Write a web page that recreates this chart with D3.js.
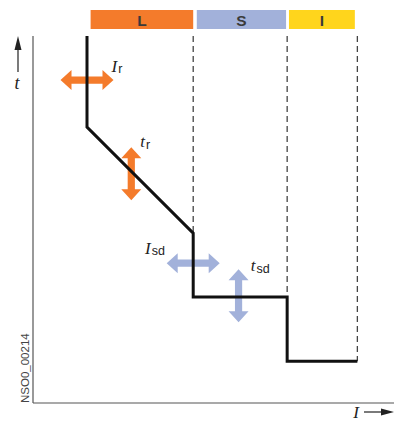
<!DOCTYPE html>
<html><head><meta charset="utf-8">
<script src="https://cdn.jsdelivr.net/npm/d3@7"></script>
<style>html,body{margin:0;padding:0;background:#fff;}svg{display:block;}</style>
</head><body>
<svg id="chart" width="394" height="421"></svg>
<script>
// ---- data ----
const zones = ["L", "S", "I"];
const zoneStart = [16, 45.5, 71.1];
const zoneEnd = [44.5, 70.3, 89.4];
const zoneColors = ["#F47B2B", "#A2B1DA", "#FFD51C"];
const boundaries = [44.5, 70.6, 90.1];
const curveI = [15, 15, 44.5, 44.5, 70.6, 70.6, 90.1];
const curveT = [100, 75.2, 46.3, 28.9, 28.9, 11.4, 11.4];
const arrowNames = ["Ir", "tr", "Isd", "tsd"];
const arrowI = [15, 27.3, 44.5, 57.1];
const arrowT = [88, 62.5, 38.1, 29.2];
const arrowDir = ["h", "v", "h", "v"];
const arrowColor = ["#F47B2B", "#F47B2B", "#A2B1DA", "#A2B1DA"];
const labelMain = ["I", "t", "I", "t"];
const labelSub = ["r", "r", "sd", "sd"];
const labelI = [21.8, 29.8, 31.1, 60.5];
const labelT = [90.2, 69.7, 40.6, 35.9];

// ---- scales ----
const svg = d3.select("#chart");
const x = d3.scaleLinear().domain([0, 100]).range([33, 393]);
const y = d3.scaleLinear().domain([0, 100]).range([403, 36]);

// axes
svg.append("line").attr("x1", x(0)).attr("x2", x(0)).attr("y1", y(100)).attr("y2", y(0))
  .attr("stroke", "#555").attr("stroke-width", 1.2);
svg.append("line").attr("x1", x(0)).attr("x2", 394).attr("y1", y(0)).attr("y2", y(0))
  .attr("stroke", "#555").attr("stroke-width", 1.2);

// zone bands
zones.forEach((z, i) => {
  svg.append("rect").attr("x", x(zoneStart[i])).attr("y", 10)
    .attr("width", x(zoneEnd[i]) - x(zoneStart[i])).attr("height", 19)
    .attr("fill", zoneColors[i]);
  svg.append("text").attr("x", (x(zoneStart[i]) + x(zoneEnd[i])) / 2).attr("y", 25.5)
    .attr("text-anchor", "middle").attr("font-family", "Liberation Sans, Arial, sans-serif")
    .attr("font-weight", "bold").attr("font-size", 15.5).attr("fill", "#3a3a3a").text(z);
});

// dashed boundaries (top to curve)
function curveTAt(iv) {
  let vals = [];
  for (let k = 0; k < curveI.length; k++) if (Math.abs(curveI[k] - iv) < 0.01) vals.push(curveT[k]);
  return vals.length ? d3.max(vals) : 0;
}
boundaries.forEach(b => {
  svg.append("line").attr("x1", x(b)).attr("x2", x(b))
    .attr("y1", y(100)).attr("y2", y(curveTAt(b)))
    .attr("stroke", "#444").attr("stroke-width", 1.3).attr("stroke-dasharray", "6,4");
});

// double arrows
function dblArrow(cx, cy, dir, color) {
  const L = 26.5, hl = 11, hw = 10, sw = 3.6;
  let pts = [[-L,0],[-L+hl,-hw],[-L+hl,-sw],[L-hl,-sw],[L-hl,-hw],[L,0],[L-hl,hw],[L-hl,sw],[-L+hl,sw],[-L+hl,hw]];
  if (dir === "v") pts = pts.map(p => [p[1], p[0]]);
  svg.append("path").attr("d", "M" + pts.map(p => (cx + p[0]) + "," + (cy + p[1])).join("L") + "Z")
    .attr("fill", color);
}
arrowNames.forEach((n, i) => dblArrow(x(arrowI[i]), y(arrowT[i]), arrowDir[i], arrowColor[i]));

// curve
const line = d3.line().x(d => x(d[0])).y(d => y(d[1]));
svg.append("path").datum(curveI.map((v, i) => [v, curveT[i]]))
  .attr("d", line).attr("fill", "none").attr("stroke", "#111").attr("stroke-width", 3)
  .attr("stroke-linejoin", "miter");

// labels
arrowNames.forEach((n, i) => {
  const t = svg.append("text").attr("x", x(labelI[i])).attr("y", y(labelT[i])).attr("fill", "#222");
  t.append("tspan").attr("font-family", "Liberation Serif, Times New Roman, serif")
    .attr("font-style", "italic").attr("font-size", 17).text(labelMain[i]);
  t.append("tspan").attr("font-family", "Liberation Sans, Arial, sans-serif")
    .attr("font-size", 12.5).attr("dx", 1).attr("dy", 1.5).text(labelSub[i]);
});

// axis titles
svg.append("text").attr("x", 17).attr("y", 89).attr("text-anchor", "middle")
  .attr("font-family", "Liberation Serif, Times New Roman, serif").attr("font-style", "italic")
  .attr("font-size", 18).attr("fill", "#222").text("t");
svg.append("line").attr("x1", 18).attr("x2", 18).attr("y1", 72).attr("y2", 46)
  .attr("stroke", "#222").attr("stroke-width", 1.2);
svg.append("path").attr("d", "M18,36 L21.5,50 L14.5,50 Z").attr("fill", "#222");

svg.append("text").attr("x", 356).attr("y", 418).attr("text-anchor", "middle")
  .attr("font-family", "Liberation Serif, Times New Roman, serif").attr("font-style", "italic")
  .attr("font-size", 17).attr("fill", "#222").text("I");
svg.append("line").attr("x1", 364).attr("x2", 384).attr("y1", 412).attr("y2", 412)
  .attr("stroke", "#222").attr("stroke-width", 1.2);
svg.append("path").attr("d", "M394,412 L381,408.5 L381,415.5 Z").attr("fill", "#222");

svg.append("text").attr("transform", "translate(28.5,403) rotate(-90)")
  .attr("font-family", "Liberation Sans, Arial, sans-serif").attr("font-size", 11.5)
  .attr("fill", "#444").text("NSO0_00214");
</script>
</body></html>
